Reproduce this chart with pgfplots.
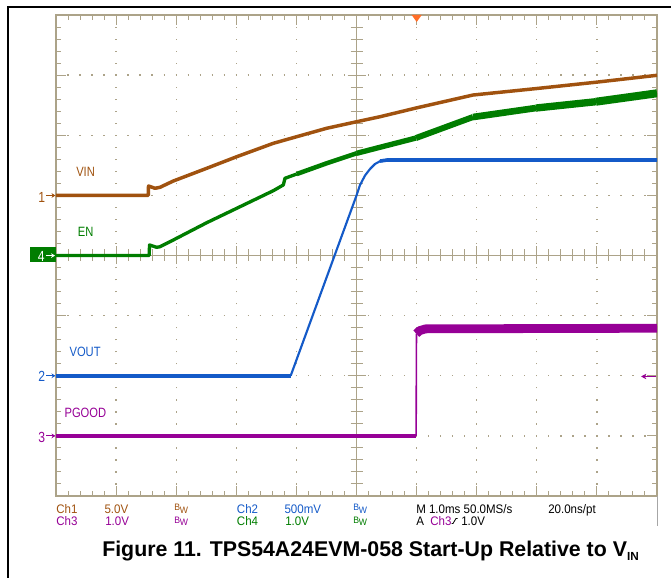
\documentclass[border=0pt]{standalone}
\usepackage{fontspec}
\setmainfont{Liberation Sans}
\newfontfamily\lblfont[FakeStretch=0.83]{Liberation Sans}
\newfontfamily\rowfont[FakeStretch=0.93]{Liberation Sans}
\usepackage{pgfplots}
\pgfplotsset{compat=1.18}
\usetikzlibrary{arrows.meta}

\definecolor{grat}{RGB}{172,163,137}
\definecolor{chone}{RGB}{160,82,15}
\definecolor{chtwo}{RGB}{20,90,200}
\definecolor{chthree}{RGB}{150,0,150}
\definecolor{chfour}{RGB}{0,125,0}
\definecolor{trig}{RGB}{255,110,40}

\newcommand{\bw}{\raisebox{2.2pt}{B}\kern-0.2pt W}

\begin{document}
\begin{tikzpicture}
% graticule: 10 x 8 divisions
\begin{axis}[
    at={(0,0)}, anchor=south west,
    scale only axis, width=450.75pt, height=360.75pt,
    xmin=0, xmax=10, ymin=0, ymax=8,
    xtick={0,...,10}, ytick={0,...,8},
    minor x tick num=4, minor y tick num=4,
    xticklabels={}, yticklabels={},
    tick align=inside,
    major tick length=7.5pt, minor tick length=3.75pt,
    tick style={grat, line width=0.75pt},
    axis line style={grat, line width=1pt},
    grid=major,
    major grid style={grat, line width=1pt, dash pattern=on 1pt off 8.015pt, dash phase=0.5pt},
]
\end{axis}

% pixel coordinates of the screenshot (origin top left)
\begin{scope}[x=0.75pt, y=-0.75pt, shift={(-42pt,372pt)}]
  % centre axes
  \draw[grat, line width=0.9pt] (56,255.5) -- (657,255.5);
  \draw[grat, line width=0.9pt] (356.5,15) -- (356.5,496);
  \foreach \i in {1,...,49}
    \draw[grat, line width=0.75pt] ({56+12.02*\i},249.5) -- ++(0,12);
  \foreach \j in {1,...,39}
    \draw[grat, line width=0.75pt] (350.5,{15+12.025*\j}) -- ++(12,0);
  \foreach \i in {1,...,9}
    \draw[grat, line width=0.75pt] ({56+60.1*\i},246.5) -- ++(0,18);
  \foreach \j in {1,...,7}
    \draw[grat, line width=0.75pt] (347.5,{15+60.125*\j}) -- ++(18,0);

  \draw[gray!70, line width=0.75pt] (657,496) -- (657,526);
  \draw[black, line width=1pt] (8,578) -- (8,7) -- (671,7);

  % trigger position and level
  \fill[trig] (411.7,15) -- (421.7,15) -- (416.7,22) -- cycle;
  \draw[chthree, line width=0.9pt, -{Stealth[length=4pt,width=4pt]}] (656,376.5) -- (641,376.5);

  % channel ground markers
  \node[chone, anchor=base west, inner sep=0, font=\lblfont\fontsize{11}{12}\selectfont] at (38,202.7) {1};
  \draw[chone, line width=0.75pt, -{Stealth[length=3pt,width=3.5pt]}] (46.5,195.5) -- (55.5,195.5);
  \fill[chfour] (30.5,246.7) rectangle (56,262.5);
  \node[white, anchor=base west, inner sep=0, font=\lblfont\fontsize{11}{12}\selectfont] at (37.5,261.5) {4};
  \draw[white, line width=0.75pt, -{Stealth[length=3pt,width=3.5pt]}] (46.5,255.6) -- (55,255.6);
  \node[chtwo, anchor=base west, inner sep=0, font=\lblfont\fontsize{11}{12}\selectfont] at (38,381.7) {2};
  \draw[chtwo, line width=0.75pt, -{Stealth[length=3pt,width=3.5pt]}] (46.5,375.8) -- (55.5,375.8);
  \node[chthree, anchor=base west, inner sep=0, font=\lblfont\fontsize{11}{12}\selectfont] at (38,442.3) {3};
  \draw[chthree, line width=0.75pt, -{Stealth[length=3pt,width=3.5pt]}] (46.5,435.9) -- (55.5,435.9);

  % trace labels
  \begin{scope}[every node/.style={anchor=base west, inner sep=0, font=\lblfont\fontsize{10.1}{12}\selectfont}]
    \node[chone] at (76,176.7) {VIN};
    \node[chfour] at (77.7,236.7) {EN};
    \node[chtwo] at (69.3,356.7) {VOUT};
    \node[chthree] at (64.3,417.3) {PGOOD};
  \end{scope}

  % readout rows
  \begin{scope}[every node/.style={anchor=base west, inner sep=0, font=\rowfont\fontsize{9.3}{11}\selectfont}]
    \node[chone] at (56,513) {Ch1};
    \node[chone] at (104.3,513) {5.0V};
    \node[chone, font=\rowfont\fontsize{7}{8}\selectfont] at (174,513) {\bw};
    \node[chtwo] at (236.7,513) {Ch2};
    \node[chtwo] at (284.3,513) {500mV};
    \node[chtwo, font=\rowfont\fontsize{7}{8}\selectfont] at (353,513) {\bw};
    \node at (416,513) {M 1.0ms 50.0MS/s};
    \node at (548,513) {20.0ns/pt};
    \node[chthree] at (56,526) {Ch3};
    \node[chthree] at (105,526) {1.0V};
    \node[chthree, font=\rowfont\fontsize{7}{8}\selectfont] at (174,526) {\bw};
    \node[chfour] at (236.7,526) {Ch4};
    \node[chfour] at (285,526) {1.0V};
    \node[chfour, font=\rowfont\fontsize{7}{8}\selectfont] at (353,526) {\bw};
    \node at (416,526) {A};
    \node[chthree] at (430,526) {Ch3};
    \node at (461,526) {1.0V};
  \end{scope}
  \draw[black, line width=0.6pt] (451.5,523.5) -- (453,523.5) -- (456,518.5) -- (457.5,518.5);

  % caption
  \node[anchor=base west, inner sep=0, font=\bfseries\fontsize{16}{18}\selectfont] at (102,556.7)
    {Figure 11. TPS54A24EVM-058 Start-Up Relative to V\raisebox{-2.5pt}{\fontsize{8.8}{9}\selectfont IN}};
\end{scope}

% traces, x in divisions (1.0 ms/div), y in divisions
\begin{axis}[
    at={(0,0)}, anchor=south west,
    scale only axis, width=450.75pt, height=360.75pt,
    xmin=0, xmax=10, ymin=0, ymax=8,
    hide axis,
]
% Ch1 VIN
\addplot[chone, line width=2.6pt, line join=round] coordinates {
  (0,5.0) (1.536,5.0) (1.539,5.156) (1.647,5.118) (1.730,5.134) (1.952,5.239)
  (2.507,5.450) (3.007,5.643) (3.616,5.866) (4.005,5.976) (4.504,6.116)
  (5.003,6.225) (5.391,6.308) (5.990,6.453) (6.938,6.669) (7.987,6.776)
  (8.985,6.882) (10,6.997)};
% Ch4 EN (trace noise widens to the right)
\addplot[chfour, line width=2.5pt, line join=round] coordinates {
  (0,4.0) (1.550,4.0) (1.556,4.175) (1.676,4.136) (1.730,4.146) (1.952,4.258)
  (2.507,4.545) (3.007,4.785) (3.616,5.078) (3.782,5.173) (3.810,5.284) (4.005,5.355)};
\addplot[chfour, line width=3.4pt, line join=round] coordinates {
  (4.005,5.355) (4.504,5.534) (5.003,5.700)};
\addplot[chfour, line width=4.0pt, line join=round] coordinates {
  (5.003,5.700) (5.391,5.800) (5.990,5.954)};
\addplot[chfour, line width=4.5pt, line join=round] coordinates {
  (5.990,5.954) (6.938,6.303)};
\addplot[chfour, line width=5.0pt, line join=round] coordinates {
  (6.938,6.303) (7.987,6.453)};
\addplot[chfour, line width=5.5pt, line join=round] coordinates {
  (7.987,6.453) (8.985,6.558)};
\addplot[chfour, line width=6.0pt, line join=round] coordinates {
  (8.985,6.558) (10,6.698)};
% Ch2 VOUT
\addplot[chtwo, line width=2.7pt] coordinates {(0,2.0) (3.910,2.0)};
\addplot[chtwo, line width=1.6pt, line join=round] coordinates {
  (3.905,2.0) (5.003,5.006) (5.059,5.173) (5.142,5.331) (5.225,5.439)
  (5.308,5.522) (5.391,5.568) (5.507,5.588)};
\addplot[chtwo, line width=2.7pt, line join=round] coordinates {
  (5.391,5.570) (5.507,5.588) (10,5.588)};
% Ch3 PGOOD
\addplot[chthree, line width=2.8pt] coordinates {(0,1.0) (5.992,1.0)};
\addplot[chthree, line width=1.2pt] coordinates {(5.992,1.0) (5.998,2.70)};
\addplot[chthree, line width=6.6pt, line join=round] coordinates {
  (5.995,2.70) (6.05,2.75) (6.15,2.78) (10,2.79)};
\end{axis}

\pgfresetboundingbox
\path[use as bounding box] (-42pt,-61.5pt) rectangle (461.25pt,372pt);
\end{tikzpicture}
\end{document}
